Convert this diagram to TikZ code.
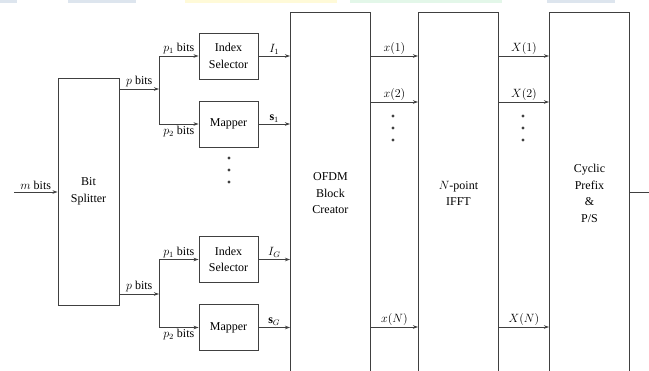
\documentclass[tikz,border=0pt]{standalone}
\usepackage{fontspec}
\setmainfont{Liberation Serif}
\usetikzlibrary{arrows.meta,positioning}
\definecolor{stripgray}{HTML}{DDE5EE}
\definecolor{stripyel}{HTML}{FFFAD8}
\definecolor{stripgrn}{HTML}{E3F7E9}
\begin{document}
\begin{tikzpicture}[x=1pt,y=-1pt,
  font=\fontsize{12}{16.5}\selectfont,
  >={Stealth[length=5pt,width=3.5pt]},
  blk/.style={draw=black!75,line width=0.9pt,align=center,inner sep=0pt},
  smallblk/.style={blk,minimum width=59pt,minimum height=46pt},
  tallblk/.style={blk,minimum width=80pt,minimum height=362pt,anchor=north west},
  wire/.style={->,draw=black!75,line width=0.8pt},
  line/.style={draw=black!75,line width=0.8pt},
  lbl/.style={inner sep=1.5pt}]
\clip (0,0) rectangle (649,371);

% strips along the top edge
\fill[stripgray] (0,0) rectangle (17,3);
\fill[stripgray] (68,0) rectangle (136,3);
\fill[stripyel] (185,0) rectangle (337,3);
\fill[stripgrn] (350,0) rectangle (502,3);
\fill[stripgray] (547,0) rectangle (615,3);

% blocks
\node[blk,minimum width=61pt,minimum height=227pt] (split) at (88.5,191.5) {Bit\\Splitter};
\node[smallblk] (sel1) at (228.5,56) {Index\\Selector};
\node[smallblk] (map1) at (228.5,124) {Mapper};
\node[smallblk] (selG) at (228.5,259.5) {Index\\Selector};
\node[smallblk] (mapG) at (228.5,327.5) {Mapper};
\node[tallblk] (ofdm) at (290,12) {OFDM\\Block\\Creator};
\node[tallblk] (ifft) at (418,12) {$N$-point\\IFFT};
\node[tallblk] (cp) at (549,12) {Cyclic\\Prefix\\\&\\P/S};

% input and splitter outputs
\coordinate (in) at (14,192);
\draw[wire] (in) -- node[lbl,above] {$m$ bits} (split.west |- in);
\coordinate (br1) at (159,89);
\coordinate (brG) at (159,294);
\draw[wire] (split.east |- br1) -- node[lbl,above] {$p$ bits} (br1);
\draw[wire] (split.east |- brG) -- node[lbl,above] {$p$ bits} (brG);
\draw[wire] (br1) |- node[lbl,above,pos=0.75] {$p_1$ bits} (sel1.west);
\draw[wire] (br1) |- node[lbl,below,pos=0.75] {$p_2$ bits} (map1.west);
\draw[wire] (brG) |- node[lbl,above,pos=0.75] {$p_1$ bits} (selG.west);
\draw[wire] (brG) |- node[lbl,below,pos=0.75] {$p_2$ bits} (mapG.west);

% into the OFDM block
\draw[wire] (sel1) -- node[lbl,above] {$I_1$} (sel1 -| ofdm.west);
\draw[wire] (map1) -- node[lbl,above] {$\mathbf{s}_1$} (map1 -| ofdm.west);
\draw[wire] (selG) -- node[lbl,above] {$I_G$} (selG -| ofdm.west);
\draw[wire] (mapG) -- node[lbl,above] {$\mathbf{s}_G$} (mapG -| ofdm.west);

% subcarrier rows
\coordinate (r1) at (0,56);
\coordinate (r2) at (0,102);
\coordinate (rN) at (0,327);
\draw[wire] (ofdm.east |- r1) -- node[lbl,above] {$x(1)$} (ifft.west |- r1);
\draw[wire] (ofdm.east |- r2) -- node[lbl,above] {$x(2)$} (ifft.west |- r2);
\draw[wire] (ofdm.east |- rN) -- node[lbl,above] {$x(N)$} (ifft.west |- rN);
\draw[wire] (ifft.east |- r1) -- node[lbl,above] {$X(1)$} (cp.west |- r1);
\draw[wire] (ifft.east |- r2) -- node[lbl,above] {$X(2)$} (cp.west |- r2);
\draw[wire] (ifft.east |- rN) -- node[lbl,above] {$X(N)$} (cp.west |- rN);

% output
\coordinate (out) at (649,192);
\draw[line] (cp.east |- out) -- (out);

% dots
\foreach \dx/\dy in {229/158, 393/116, 523/116}
  \foreach \k in {0,1,2}
    \fill[black!75] (\dx,\dy+12*\k) circle (1.6pt);
\end{tikzpicture}
\end{document}
